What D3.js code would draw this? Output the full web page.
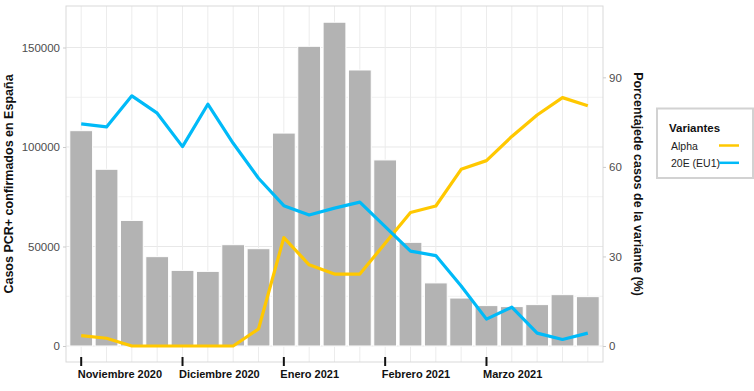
<!DOCTYPE html>
<html>
<head>
<meta charset="utf-8">
<script src="https://cdn.jsdelivr.net/npm/d3@7"></script>
<style>
  html, body { margin: 0; padding: 0; background: #fff; }
  svg { display: block; font-family: "Liberation Sans", Arial, sans-serif; }
</style>
</head>
<body>
<svg id="chart" width="754" height="391"></svg>
<script>
// ---- data ----
const weeks = d3.range(21); // weekly index, Nov 2020 .. Mar 2021
const cases = [108200, 88800, 63100, 44900, 38000, 37500, 50900, 48900, 107000, 150600,
               162700, 138700, 93500, 52100, 31700, 24100, 20300, 19800, 20800, 25800, 24800];
const alpha = [3.5, 2.6, 0, 0, 0, 0, 0, 5.7, 36.3, 27.2, 24.1, 24.1, 34.4, 44.7, 46.9,
               59.2, 62.1, 70.2, 77.4, 83.2, 80.5];
const eu1 = [74.4, 73.4, 83.8, 78.0, 66.8, 81.0, 67.9, 56.2, 47.0, 43.9, 46.2, 48.2, 40.0,
             31.8, 30.3, 20.1, 9.0, 13.0, 4.3, 2.2, 4.3];
const monthTickIdx = [0, 4, 8, 12, 16];
const monthLabels = ["Noviembre 2020", "Diciembre 2020", "Enero 2021", "Febrero 2021", "Marzo 2021"];
const leftTicks = [0, 50000, 100000, 150000];
const leftMinor = [25000, 75000, 125000];
const rightTicks = [0, 30, 60, 90];
const seriesNames = ["Alpha", "20E (EU1)"];
const seriesColors = ["#FFC800", "#00BAF8"];
const pctFactor = 1500; // 100% == 150000 cases

// ---- layout ----
const svg = d3.select("#chart");
const P = { left: 66, right: 603, top: 6, bottom: 362 };

const x = d3.scaleLinear().domain([-0.6, 20.6]).range([P.left, P.right]);
const y = d3.scaleLinear().domain([-8040, 170850]).range([P.bottom, P.top]);
const yR = d3.scaleLinear().domain([-8040 / pctFactor, 170850 / pctFactor]).range([P.bottom, P.top]);

// gridlines
const grid = svg.append("g");
grid.selectAll("line.hmin").data(leftMinor).join("line")
  .attr("x1", P.left).attr("x2", P.right)
  .attr("y1", d => y(d)).attr("y2", d => y(d))
  .attr("stroke", "#f1f1f1").attr("stroke-width", 1);
grid.selectAll("line.hmaj").data(leftTicks).join("line")
  .attr("x1", P.left).attr("x2", P.right)
  .attr("y1", d => y(d)).attr("y2", d => y(d))
  .attr("stroke", "#e8e8e8").attr("stroke-width", 1);
grid.selectAll("line.v").data(weeks).join("line")
  .attr("x1", d => x(d)).attr("x2", d => x(d))
  .attr("y1", P.top).attr("y2", P.bottom)
  .attr("stroke", "#ececec").attr("stroke-width", 1);

// bars
const bw = x(0.9) - x(0);
svg.append("g").selectAll("rect").data(weeks).join("rect")
  .attr("x", d => x(d) - bw / 2)
  .attr("width", bw)
  .attr("y", d => y(cases[d]))
  .attr("height", d => y(0) - y(cases[d]))
  .attr("fill", "#b3b3b3")
  .attr("stroke", "#ffffff").attr("stroke-width", 1);

// lines
const line = d3.line().x((d, i) => x(i)).y(d => yR(d));
[alpha, eu1].forEach((s, k) => {
  svg.append("path").datum(s)
    .attr("d", line)
    .attr("fill", "none")
    .attr("stroke", seriesColors[k])
    .attr("stroke-width", 3.2)
    .attr("stroke-linejoin", "round")
    .attr("stroke-linecap", "butt");
});

// panel border
svg.append("rect")
  .attr("x", P.left).attr("y", P.top)
  .attr("width", P.right - P.left).attr("height", P.bottom - P.top)
  .attr("fill", "none").attr("stroke", "#d9d9d9").attr("stroke-width", 1);

// left axis
const gl = svg.append("g").attr("transform", `translate(${P.left},0)`)
  .call(d3.axisLeft(y).tickValues(leftTicks).tickFormat(d3.format("d")).tickSize(3).tickPadding(3));
gl.select(".domain").remove();
gl.selectAll(".tick line").attr("stroke", "#cccccc");
gl.selectAll(".tick text").attr("fill", "#4d4d4d").style("font-size", "11.5px")
  .style("font-family", "'Liberation Sans', Arial, sans-serif");

// right axis
const gr = svg.append("g").attr("transform", `translate(${P.right},0)`)
  .call(d3.axisRight(yR).tickValues(rightTicks).tickSize(3).tickPadding(3));
gr.select(".domain").remove();
gr.selectAll(".tick line").attr("stroke", "#cccccc");
gr.selectAll(".tick text").attr("fill", "#4d4d4d").style("font-size", "11.5px")
  .style("font-family", "'Liberation Sans', Arial, sans-serif");

// x month ticks (black marks) and labels
const gx = svg.append("g");
gx.selectAll("line").data(monthTickIdx).join("line")
  .attr("x1", d => x(d)).attr("x2", d => x(d))
  .attr("y1", 357).attr("y2", 366)
  .attr("stroke", "#111").attr("stroke-width", 2);
gx.selectAll("text").data(monthTickIdx).join("text")
  .attr("x", d => x(d) - 3.5).attr("y", 378)
  .attr("text-anchor", "start")
  .style("font-size", "11px").style("font-weight", "bold").attr("fill", "#111")
  .text((d, i) => monthLabels[i]);

// axis titles
svg.append("text")
  .attr("transform", `translate(13,${(P.top + P.bottom) / 2}) rotate(-90)`)
  .attr("text-anchor", "middle")
  .style("font-size", "12.5px").style("font-weight", "bold").attr("fill", "#111")
  .text("Casos PCR+ confirmados en España");
svg.append("text")
  .attr("transform", `translate(633.5,${(P.top + P.bottom) / 2}) rotate(90)`)
  .attr("text-anchor", "middle")
  .style("font-size", "12.5px").style("font-weight", "bold").attr("fill", "#111")
  .text("Porcentajede casos de la variante (%)");

// legend
const lg = svg.append("g");
lg.append("rect").attr("x", 657).attr("y", 108.5).attr("width", 96).attr("height", 69.5)
  .attr("fill", "#fff").attr("stroke", "#d2d2d2").attr("stroke-width", 2);
lg.append("text").attr("x", 669).attr("y", 132)
  .style("font-size", "11.5px").style("font-weight", "bold").attr("fill", "#111")
  .text("Variantes");
seriesNames.forEach((n, i) => {
  const yy = 145.5 + i * 17.3;
  lg.append("text").attr("x", 671).attr("y", yy + 4)
    .style("font-size", "10.5px").attr("fill", "#222").text(n);
  lg.append("line").attr("x1", 719).attr("x2", 739).attr("y1", yy).attr("y2", yy)
    .attr("stroke", seriesColors[i]).attr("stroke-width", 2.5);
});
</script>
</body>
</html>
